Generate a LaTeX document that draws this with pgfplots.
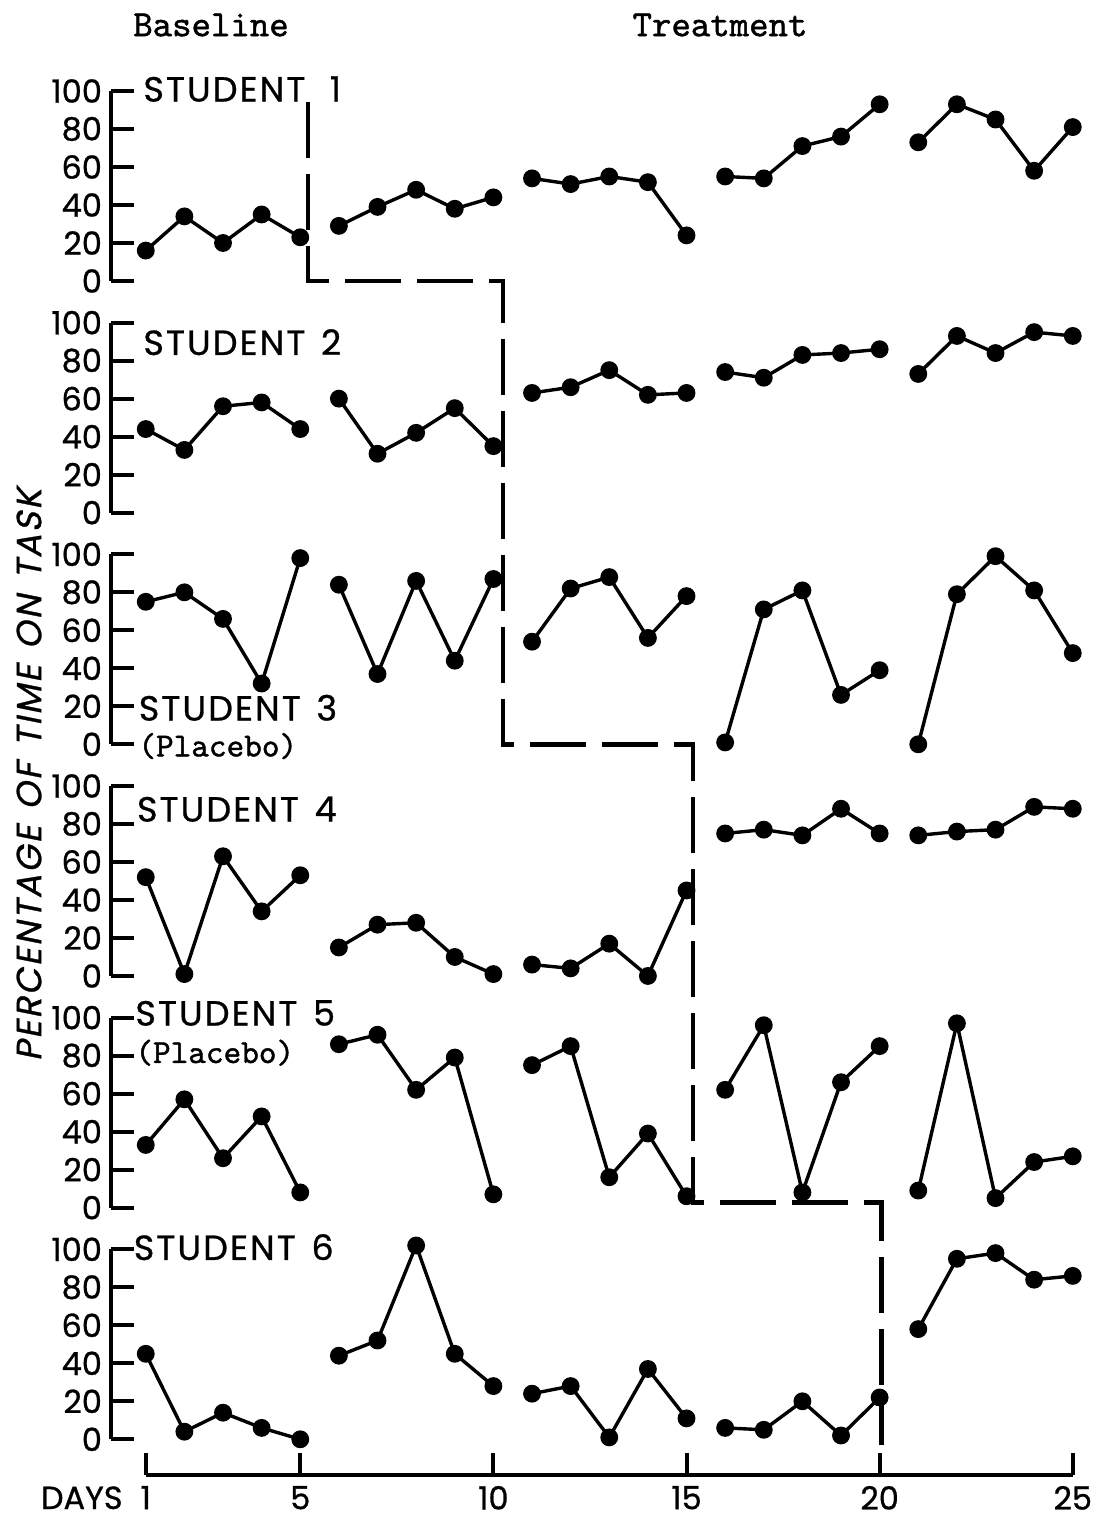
\documentclass[border=0pt]{standalone}
\usepackage{fontspec}
\usepackage{pgfplots}
\pgfplotsset{compat=1.18}
\newfontfamily\pop{Poppins}[FakeBold=0.8, LetterSpace=6]
\newfontfamily\popt{Poppins}[FakeBold=0.8]
\newfontfamily\popsl{Poppins}[FakeSlant=0.2, FakeBold=0.8, LetterSpace=6]
\newfontfamily\tw{lmmono10-regular.otf}[FakeBold=1.2]
\newcommand\lbl{\pop\fontsize{17.5}{20}\selectfont}
\newcommand\tk{\popt\fontsize{16}{19}\selectfont}
\newcommand\mon{\tw\fontsize{18.5}{21}\selectfont}
\newcommand\monsm{\tw\fontsize{16.8}{20}\selectfont}
\pgfplotsset{
  panel/.style={
    scale only axis, width=490.54pt, height=95pt,
    xmin=0.1, xmax=25.5, ymin=0, ymax=100,
    axis x line=none, axis y line=left,
    axis line style={line width=2pt,-},
    every outer y axis line/.append style={-},
    ytick={0,20,40,60,80,100},
    tick align=inside,
    major tick length=11.5pt,
    tick style={line width=2pt,black},
    yticklabel style={font=\tk, xshift=-1pt},
    /pgf/number format/assume math mode=true,
    clip=false, anchor=south west,
    unbounded coords=jump,
  },
  dat/.style={black, line width=1.7pt, mark=*, mark size=3.6pt, mark options={solid, fill=black}},
}
\begin{document}
\begin{tikzpicture}
\useasboundingbox (0,0) rectangle (547pt,759.5pt);
% Student 1
\begin{axis}[panel, at={(55.5pt,619pt)}]
\addplot[dat] coordinates {(1,16) (2,34) (3,20) (4,35) (5,23) (5.5,nan)
 (6,29) (7,39) (8,48) (9,38) (10,44) (10.5,nan)
 (11,54) (12,51) (13,55) (14,52) (15,24) (15.5,nan)
 (16,55) (17,54) (18,71) (19,76) (20,93) (20.5,nan)
 (21,73) (22,93) (23,85) (24,58) (25,81)};
\addplot[black, line width=2.2pt, dash pattern=on 28pt off 8pt] coordinates {(5.2,94) (5.2,0) (10.25,0) (10.25,-243.86) (15.17,-243.86) (15.17,-485) (20.05,-485) (20.05,-612.7)};
\end{axis}
% Student 2
\begin{axis}[panel, at={(55.5pt,503.17pt)}]
\addplot[dat] coordinates {(1,44) (2,33) (3,56) (4,58) (5,44) (5.5,nan)
 (6,60) (7,31) (8,42) (9,55) (10,35) (10.5,nan)
 (11,63) (12,66) (13,75) (14,62) (15,63) (15.5,nan)
 (16,74) (17,71) (18,83) (19,84) (20,86) (20.5,nan)
 (21,73) (22,93) (23,84) (24,95) (25,93)};
\end{axis}
% Student 3
\begin{axis}[panel, at={(55.5pt,387.34pt)}]
\addplot[dat] coordinates {(1,75) (2,80) (3,66) (4,32) (5,98) (5.5,nan)
 (6,84) (7,37) (8,86) (9,44) (10,87) (10.5,nan)
 (11,54) (12,82) (13,88) (14,56) (15,78) (15.5,nan)
 (16,1) (17,71) (18,81) (19,26) (20,39) (20.5,nan)
 (21,0) (22,79) (23,99) (24,81) (25,48)};
\end{axis}
% Student 4
\begin{axis}[panel, at={(55.5pt,271.51pt)}]
\addplot[dat] coordinates {(1,52) (2,1) (3,63) (4,34) (5,53) (5.5,nan)
 (6,15) (7,27) (8,28) (9,10) (10,1) (10.5,nan)
 (11,6) (12,4) (13,17) (14,0) (15,45) (15.5,nan)
 (16,75) (17,77) (18,74) (19,88) (20,75) (20.5,nan)
 (21,74) (22,76) (23,77) (24,89) (25,88)};
\end{axis}
% Student 5
\begin{axis}[panel, at={(55.5pt,155.68pt)}]
\addplot[dat] coordinates {(1,33) (2,57) (3,26) (4,48) (5,8) (5.5,nan)
 (6,86) (7,91) (8,62) (9,79) (10,7) (10.5,nan)
 (11,75) (12,85) (13,16) (14,39) (15,6) (15.5,nan)
 (16,62) (17,96) (18,8) (19,66) (20,85) (20.5,nan)
 (21,9) (22,97) (23,5) (24,24) (25,27)};
\end{axis}
% Student 6
\begin{axis}[panel, at={(55.5pt,39.85pt)}]
\addplot[dat] coordinates {(1,45) (2,4) (3,14) (4,6) (5,0) (5.5,nan)
 (6,44) (7,52) (8,102) (9,45) (10,28) (10.5,nan)
 (11,24) (12,28) (13,1) (14,37) (15,11) (15.5,nan)
 (16,6) (17,5) (18,20) (19,2) (20,22) (20.5,nan)
 (21,58) (22,95) (23,98) (24,84) (25,86)};
\end{axis}
% Days axis
\begin{axis}[scale only axis, width=463.5pt, height=10pt, at={(72.88pt,22pt)}, anchor=south west,
  xmin=1, xmax=25, ymin=0, ymax=1,
  axis x line=bottom, axis y line=none,
  axis line style={line width=2pt,-},
  every outer x axis line/.append style={-},
  xtick={1,5,10,15,20,25},
  tick align=inside, major tick length=11pt,
  tick style={line width=2pt,black},
  xticklabel style={font=\tk, yshift=-2pt},
  /pgf/number format/assume math mode=true,
  clip=false]
\addplot[draw=none] coordinates {(1,0) (25,0)};
\end{axis}
% Texts
\node[anchor=base east, font=\tk, inner sep=0pt] at (61.5pt,5pt) {DAYS};
\node[font=\mon] at (105.5pt,747pt) {Baseline};
\node[font=\mon] at (360pt,747pt) {Treatment};
\node[anchor=base west, font=\lbl, inner sep=0pt] at (71.5pt,708.7pt) {STUDENT\hspace{0.7em}1};
\node[anchor=base west, font=\lbl, inner sep=0pt] at (71.5pt,582pt) {STUDENT\hspace{0.45em}2};
\node[anchor=base west, font=\lbl, inner sep=0pt] at (69.2pt,399.2pt) {STUDENT\hspace{0.45em}3};
\node[anchor=base west, font=\monsm, inner sep=0pt] at (69pt,381.3pt) {(Placebo)};
\node[anchor=base west, font=\lbl, inner sep=0pt] at (68.3pt,348.7pt) {STUDENT\hspace{0.45em}4};
\node[anchor=base west, font=\lbl, inner sep=0pt] at (67.5pt,246.7pt) {STUDENT\hspace{0.45em}5};
\node[anchor=base west, font=\monsm, inner sep=0pt] at (67.5pt,228pt) {(Placebo)};
\node[anchor=base west, font=\lbl, inner sep=0pt] at (66.7pt,129.5pt) {STUDENT\hspace{0.45em}6};
\node[rotate=90, font=\popsl\fontsize{17.5}{20}\selectfont] at (14.5pt,372pt) {PERCENTAGE\hspace{0.45em}OF\hspace{0.45em}TIME\hspace{0.45em}ON\hspace{0.45em}TASK};
\end{tikzpicture}
\end{document}
